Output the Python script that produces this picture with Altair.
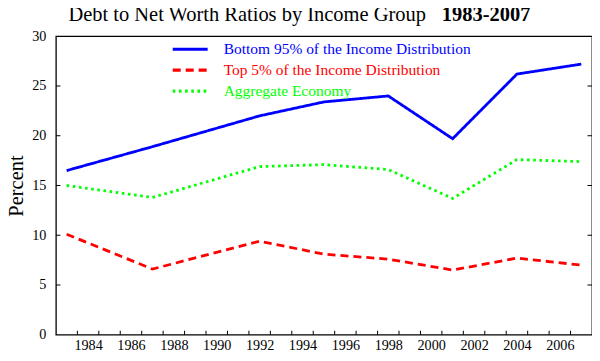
import altair as alt
import pandas as pd

# ---- data ----
years = [1983, 1987, 1992, 1995, 1998, 2001, 2004, 2007]
bottom95 = [16.5, 18.9, 22.0, 23.4, 24.0, 19.7, 26.2, 27.2]
top5 = [10.1, 6.6, 9.4, 8.1, 7.6, 6.5, 7.7, 7.0]
aggregate = [15.0, 13.8, 16.9, 17.1, 16.6, 13.7, 17.6, 17.4]

series_names = [
    "Bottom 95% of the Income Distribution",
    "Top 5% of the Income Distribution",
    "Aggregate Economy",
]
series_colors = ["#0000ff", "#ff0000", "#00ff00"]
series_dash = [[1, 0], [8, 5], [2.6, 3.6]]

x_tick_years = [1983.5, 1984.5, 1985.5, 1986.5, 1987.5, 1988.5, 1989.5, 1990.5,
                1991.5, 1992.5, 1993.5, 1994.5, 1995.5, 1996.5, 1997.5, 1998.5,
                1999.5, 2000.5, 2001.5, 2002.5, 2003.5, 2004.5, 2005.5, 2006.5]
x_label_years = [1984, 1986, 1988, 1990, 1992, 1994, 1996, 1998, 2000, 2002, 2004, 2006]
y_label_values = [0, 5, 10, 15, 20, 25, 30]
y_tick_values = [5, 10, 15, 20, 25]

title_main = ["Debt to Net Worth Ratios by Income Group"]
title_years = ["1983-2007"]
y_title = "Percent"

FONT = "Liberation Serif"
W, H = 537, 299

rows = []
for name, vals in zip(series_names, [bottom95, top5, aggregate]):
    for yr, v in zip(years, vals):
        rows.append({"series": name, "year": yr, "value": v})
df = pd.DataFrame(rows)

xscale = alt.Scale(domain=[1982.5, 2007.5], nice=False, zero=False)
yscale = alt.Scale(domain=[0, 30], nice=False, zero=True)
cscale = alt.Scale(domain=series_names, range=series_colors)
dscale = alt.Scale(domain=series_names, range=series_dash)

xaxis = alt.Axis(values=x_label_years, format="d", title=None, labelOverlap=False,
                 labelPadding=4, labelFlush=False, labelFont=FONT, labelFontSize=14.2,
                 labelColor="#000", domain=False, ticks=False, grid=False)

lines = alt.Chart(df).mark_line(strokeWidth=2.8).encode(
    x=alt.X("year:Q", scale=xscale, axis=xaxis),
    y=alt.Y("value:Q", scale=yscale,
            axis=alt.Axis(values=y_label_values, title=y_title, labelPadding=10,
                          labelFont=FONT, labelFontSize=14.2, labelColor="#000",
                          domain=False, ticks=False, grid=False,
                          titlePadding=5, titleFontSize=20.5, titleFont=FONT,
                          titleFontWeight="normal", titleColor="#000")),
    color=alt.Color("series:N", scale=cscale, legend=None),
    strokeDash=alt.StrokeDash("series:N", scale=dscale, legend=None),
    order="year:Q",
)

xt = pd.DataFrame({"t": x_tick_years})
bottom_ticks = alt.Chart(xt).mark_rule(color="#000", strokeWidth=1).encode(
    x=alt.X("t:Q", scale=xscale, axis=xaxis),
    y=alt.value(H), y2=alt.value(H - 4),
)
yt = pd.DataFrame({"v": y_tick_values})
left_ticks = alt.Chart(yt).mark_rule(color="#000", strokeWidth=1).encode(
    y=alt.Y("v:Q", scale=yscale, axis=None),
    x=alt.value(0), x2=alt.value(4.5),
)
right_ticks = alt.Chart(yt).mark_rule(color="#000", strokeWidth=1).encode(
    y=alt.Y("v:Q", scale=yscale, axis=None),
    x=alt.value(W - 4.5), x2=alt.value(W),
)

leg_df = pd.DataFrame({"series": series_names, "row": list(range(len(series_names)))})
leg_y = alt.Y("row:Q", scale=alt.Scale(domain=[0, 2], range=[13, 55], nice=False, zero=False),
              axis=None)
leg_sym = alt.Chart(leg_df).mark_rule(strokeWidth=3.2).encode(
    y=leg_y, x=alt.value(117), x2=alt.value(152),
    color=alt.Color("series:N", scale=cscale, legend=None),
    strokeDash=alt.StrokeDash("series:N", scale=dscale, legend=None),
)
leg_txt = alt.Chart(leg_df).mark_text(align="left", baseline="middle", font=FONT,
                                      fontSize=15.5).encode(
    y=leg_y, x=alt.value(168), text="series:N",
    color=alt.Color("series:N", scale=cscale, legend=None),
)

t1 = alt.Chart(pd.DataFrame({"t": title_main})).mark_text(
    align="left", baseline="alphabetic", font=FONT, fontSize=20.5, color="#000"
).encode(x=alt.value(12.5), y=alt.value(-15), text="t:N")
t2 = alt.Chart(pd.DataFrame({"t": title_years})).mark_text(
    align="left", baseline="alphabetic", font=FONT, fontSize=20.5, fontWeight="bold", color="#000"
).encode(x=alt.value(386.5), y=alt.value(-15), text="t:N")

chart = alt.layer(
    lines, bottom_ticks, left_ticks, right_ticks, leg_sym, leg_txt, t1, t2
).resolve_scale(y="independent").properties(
    width=W, height=H,
    padding={"left": 48, "top": 28, "right": 0, "bottom": 25},
    autosize="none",
).configure_view(
    stroke="#000", strokeWidth=1.3
).configure_axis(
    labelFont=FONT, labelFontSize=14.2, labelColor="#000",
    domain=False, ticks=False, grid=False,
)

chart.save("out.html", embed_options={"renderer": "svg", "actions": False})
